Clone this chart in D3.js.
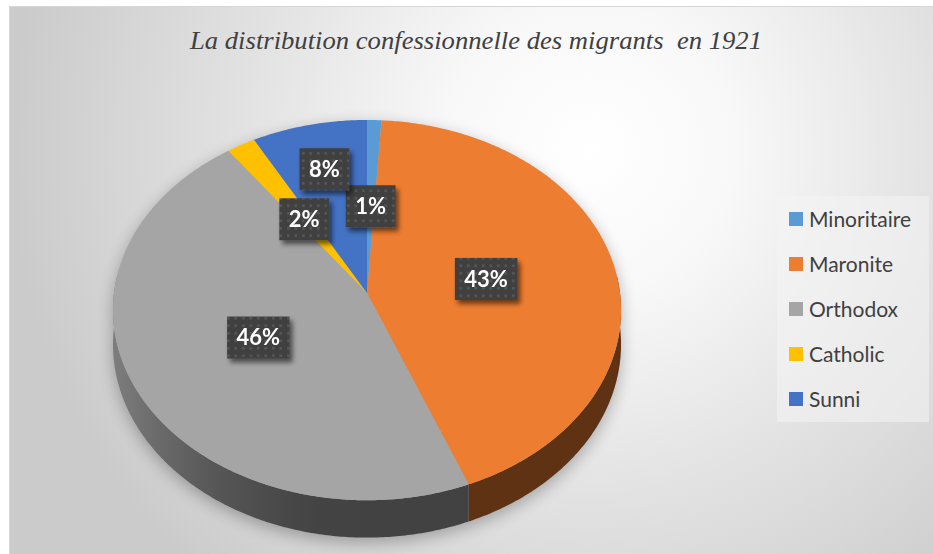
<!DOCTYPE html>
<html>
<head>
<meta charset="utf-8">
<script src="https://cdn.jsdelivr.net/npm/d3@7"></script>
<style>
  body { margin: 0; background: #fff; }
</style>
</head>
<body>
<div id="chart"></div>
<script>
const categories = ["Minoritaire", "Maronite", "Orthodox", "Catholic", "Sunni"];
const shares = [1, 43, 46, 2, 8];
const colors = ["#5b9bd5", "#ed7d31", "#a5a5a5", "#ffc000", "#4472c4"];
const title = "La distribution confessionnelle des migrants  en 1921";

const width = 933, height = 554;

// pie geometry (perspective projection of a flat disc)
const cx = 367, cy = 293, rx = 253, ry = 188.6, k = 0.09, depth = 34;

function proj(a, f, t) {
  const w = 1 + k * f * Math.cos(a);
  return [cx + rx * f * Math.sin(a) / w, cy - ry * f * Math.cos(a) / w + depth * t / w];
}

const svg = d3.select("#chart").append("svg")
  .attr("width", width)
  .attr("height", height);

const defs = svg.append("defs");

const bg = defs.append("radialGradient")
  .attr("id", "bg")
  .attr("gradientUnits", "userSpaceOnUse")
  .attr("cx", 590).attr("cy", 150).attr("r", 580);
bg.append("stop").attr("offset", 0).attr("stop-color", "#ffffff");
bg.append("stop").attr("offset", 0.25).attr("stop-color", "#f8f8f8");
bg.append("stop").attr("offset", 0.6).attr("stop-color", "#e2e2e2");
bg.append("stop").attr("offset", 1).attr("stop-color", "#cbcbcb");

const blur = defs.append("filter").attr("id", "pieShadow")
  .attr("x", "-20%").attr("y", "-20%").attr("width", "140%").attr("height", "140%");
blur.append("feGaussianBlur").attr("stdDeviation", 8);

const lblShadow = defs.append("filter").attr("id", "lblShadow")
  .attr("x", "-30%").attr("y", "-30%").attr("width", "160%").attr("height", "160%");
lblShadow.append("feGaussianBlur").attr("in", "SourceAlpha").attr("stdDeviation", 2.5).attr("result", "b");
lblShadow.append("feOffset").attr("dx", 3).attr("dy", 4).attr("result", "o");
lblShadow.append("feComponentTransfer").append("feFuncA").attr("type", "linear").attr("slope", 0.55);
const merge = lblShadow.append("feMerge");
merge.append("feMergeNode");
merge.append("feMergeNode").attr("in", "SourceGraphic");

const dots = defs.append("pattern")
  .attr("id", "dots")
  .attr("patternUnits", "userSpaceOnUse")
  .attr("width", 7.5).attr("height", 7.5);
dots.append("rect").attr("width", 7.5).attr("height", 7.5).attr("fill", "#404040");
dots.append("rect").attr("x", 2).attr("y", 2).attr("width", 2.6).attr("height", 2.6).attr("fill", "#575757");

// side shading: lit from the left, darker toward the front and right
colors.forEach((c, i) => {
  const lg = defs.append("linearGradient")
    .attr("id", "side" + i)
    .attr("gradientUnits", "userSpaceOnUse")
    .attr("x1", cx - rx).attr("x2", cx + rx).attr("y1", 0).attr("y2", 0);
  const base = d3.rgb(c);
  d3.range(0, 1.0001, 0.05).forEach(o => {
    const s = Math.max(0, 1 - 2 * o);
    const f = 0.4 + 0.36 * s * s;
    lg.append("stop").attr("offset", o)
      .attr("stop-color", d3.rgb(base.r * f, base.g * f, base.b * f).formatHex());
  });
});

// chart area
svg.append("rect")
  .attr("x", 9.5).attr("y", 6.5)
  .attr("width", width - 9).attr("height", height - 6)
  .attr("fill", "url(#bg)")
  .attr("stroke", "#d6d6d6");

svg.append("text")
  .attr("x", 476).attr("y", 49)
  .attr("text-anchor", "middle")
  .style("white-space", "pre")
  .attr("font-family", "'Liberation Serif', 'Times New Roman', serif")
  .attr("font-style", "italic")
  .attr("font-size", 24.5)
  .attr("textLength", 572)
  .attr("lengthAdjust", "spacingAndGlyphs")
  .attr("fill", "#404040")
  .text(title);

const pie = d3.pie().sort(null).value(d => d)(shares);
const total = d3.sum(shares);
const pct = d3.format(".0%");

function arcPoints(a0, a1, f, t) {
  const n = Math.max(2, Math.ceil((a1 - a0) / 0.01));
  return d3.range(n + 1).map(i => proj(a0 + (a1 - a0) * i / n, f, t));
}

// soft shadow of the whole disc
const outline = arcPoints(0, 2 * Math.PI, 1, 0);
const outlineLow = arcPoints(0, 2 * Math.PI, 1, 1);
svg.append("path")
  .attr("d", d3.line()(outline) + d3.line()(outlineLow))
  .attr("transform", "translate(0,5)")
  .attr("fill", "#000")
  .attr("opacity", 0.28)
  .attr("filter", "url(#pieShadow)");

// side wall, front half only
svg.append("g").selectAll("path")
  .data(pie)
  .join("path")
  .attr("d", d => {
    const a0 = Math.max(d.startAngle, Math.PI / 2 - 0.1);
    const a1 = Math.min(d.endAngle, 3 * Math.PI / 2 + 0.1);
    if (a1 <= a0) return null;
    const top = arcPoints(a0, a1, 1, 0);
    const low = arcPoints(a0, a1, 1, 1).reverse();
    return d3.line()([...top, ...low]) + "Z";
  })
  .attr("fill", (d, i) => `url(#side${i})`);

// top face
svg.append("g").selectAll("path")
  .data(pie)
  .join("path")
  .attr("d", d => d3.line()([[cx, cy], ...arcPoints(d.startAngle, d.endAngle, 1, 0)]) + "Z")
  .attr("fill", (d, i) => colors[i]);

// data labels
const labels = svg.append("g")
  .attr("font-family", "Lato, 'Open Sans', sans-serif")
  .attr("font-weight", "bold")
  .attr("font-size", 22);

const placed = [];
pie.forEach((p, i) => {
  const g = labels.append("g").attr("filter", "url(#lblShadow)");
  const rect = g.append("rect").attr("fill", "url(#dots)");
  const txt = g.append("text")
    .attr("text-anchor", "middle")
    .attr("dy", "0.36em")
    .attr("fill", "#fff")
    .text(pct(p.value / total));
  const w = txt.node().getComputedTextLength() + 19, h = 42;
  const mid = (p.startAngle + p.endAngle) / 2;
  let f = 0.48, pos = proj(mid, f, 0);
  const hits = q => placed.some(b => Math.abs(b.x - q[0]) < (b.w + w) / 2 - 4 && Math.abs(b.y - q[1]) < h - 4);
  while (hits(pos) && f < 1.2) {
    f += 0.01;
    pos = proj(mid, f, 0);
  }
  placed.push({ x: pos[0], y: pos[1], w });
  rect.attr("x", pos[0] - w / 2).attr("y", pos[1] - h / 2).attr("width", w).attr("height", h);
  txt.attr("x", pos[0]).attr("y", pos[1]);
});

// legend
svg.append("rect")
  .attr("x", 777).attr("y", 196)
  .attr("width", 152).attr("height", 226)
  .attr("fill", "#f4f4f4")
  .attr("opacity", 0.55);

const legend = svg.append("g").selectAll("g")
  .data(categories)
  .join("g")
  .attr("transform", (d, i) => `translate(789,${219 + i * 45})`);
legend.append("rect")
  .attr("y", -7).attr("width", 14).attr("height", 14)
  .attr("fill", (d, i) => colors[i]);
legend.append("text")
  .attr("x", 20).attr("dy", "0.36em")
  .attr("font-family", "Lato, 'Open Sans', sans-serif")
  .attr("font-size", 21)
  .attr("fill", "#404040")
  .text(d => d);
</script>
</body>
</html>
